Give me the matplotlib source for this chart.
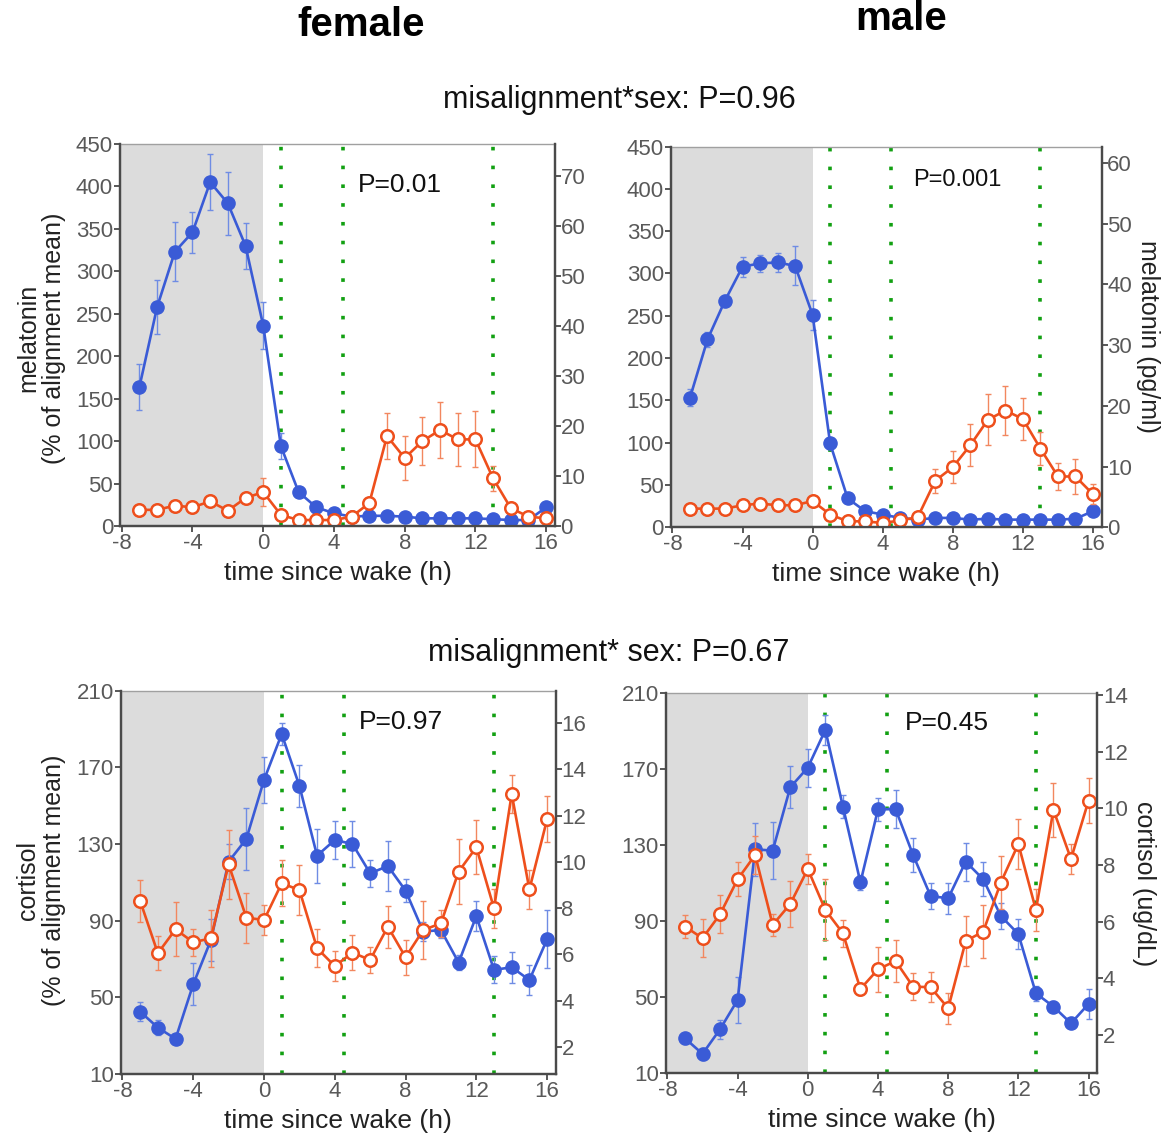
import matplotlib
matplotlib.use("Agg")
import matplotlib.pyplot as plt
import numpy as np

plt.rcParams['font.family'] = ['Liberation Sans', 'DejaVu Sans']
plt.rcParams['axes.unicode_minus'] = False

hours = np.arange(-7, 17)
wake_lines = [1, 4.5, 13]

# melatonin, female (% of alignment mean)
mel_f_align = [164, 258, 323, 346, 405, 380, 330, 236, 94, 40, 22, 15, 11, 12,
               12, 11, 9, 9, 9, 9, 8, 7, 7, 22]
mel_f_align_err = [27, 32, 35, 24, 33, 37, 27, 28, 15, 6, 4, 3, 3, 2, 2, 2, 2, 2,
                   2, 2, 2, 2, 2, 3]
mel_f_mis = [19, 19, 24, 22, 29, 18, 33, 40, 13, 7, 7, 7, 11, 27, 106, 80, 100,
             113, 102, 102, 56, 21, 11, 9]
mel_f_mis_err = [4, 4, 4, 4, 4, 4, 4, 16, 5, 3, 3, 3, 3, 5, 27, 26, 28, 33, 31,
                 33, 15, 5, 3, 3]

# melatonin, male
mel_m_align = [153, 222, 268, 308, 312, 313, 309, 251, 99, 34, 19, 15, 11, 9,
               11, 11, 9, 10, 9, 9, 9, 9, 10, 19]
mel_m_align_err = [10, 9, 7, 12, 10, 11, 23, 18, 6, 4, 3, 2, 2, 2, 2, 2, 2, 2,
                   2, 2, 2, 2, 2, 3]
mel_m_mis = [22, 22, 22, 26, 28, 26, 26, 31, 15, 7, 7, 5, 8, 12, 55, 71, 97,
             127, 138, 128, 93, 60, 60, 39]
mel_m_mis_err = [3, 3, 3, 3, 3, 3, 3, 4, 3, 2, 2, 2, 2, 3, 14, 19, 25, 30, 29,
                 25, 20, 16, 21, 12]

# cortisol, female
cor_f_align = [42.5, 34.2, 28.3, 56.8, 79.9, 120.8, 132.6, 163.4, 187.4, 160.4,
               123.9, 132.1, 130, 114.7, 118.5, 105.7, 84.3, 85.1, 68.1, 92.4,
               64.3, 65.7, 59, 80.3]
cor_f_align_err = [5, 4, 2, 11, 11, 9, 16, 12, 6, 11, 14, 10, 12, 7, 13, 6, 5,
                   4, 4, 8, 7, 8, 8, 15]
cor_f_mis = [100.3, 73, 85.5, 78.7, 80.8, 119.4, 91.6, 90.3, 109.5, 106, 75.6,
             66.3, 73.3, 69.5, 86.9, 70.9, 85.1, 88.6, 115.6, 128.3, 96.4, 156.1,
             106.3, 142.9]
cor_f_mis_err = [11, 9, 14, 7, 15, 18, 13, 8, 12, 13, 10, 8, 9, 7, 11, 9, 15, 7,
                 17, 14, 10, 10, 10, 12]

# cortisol, male
cor_m_align = [28.4, 20.2, 33.2, 48.6, 127.9, 127.2, 160.5, 170.9, 190.7, 150.4,
               110.5, 148.9, 149.1, 124.9, 103.3, 102.1, 121.4, 112.1, 92.8,
               83.3, 52.1, 45.1, 36.3, 46.5]
cor_m_align_err = [3, 3, 5, 12, 14, 15, 11, 10, 8, 6, 4, 6, 10, 9, 7, 8, 10, 9,
                   7, 8, 4, 3, 2, 8]
cor_m_mis = [87.2, 81.1, 93.7, 112.1, 124.9, 88.1, 99.1, 117.5, 96, 83.7, 54.4,
             64.7, 69.1, 55.6, 55.3, 44.2, 79.6, 84.6, 110.4, 130.7, 96, 148.6,
             122.8, 153.5]
cor_m_mis_err = [6, 10, 10, 9, 10, 6, 12, 8, 16, 7, 3, 12, 11, 7, 8, 8, 13, 14,
                 14, 13, 11, 14, 8, 12]

BLUE = '#3a5bd6'
ORANGE = '#ee4f1c'
TICK_C = '#595959'
SPINE_C = '#4a4a4a'

fig = plt.figure(figsize=(11.65, 11.39), dpi=100)


def panel(rect, align, align_err, mis, mis_err, ylim, yticks, rlim, rticks, ptext,
          ppos, pfs=19):
    ax = fig.add_axes(rect)
    ax.set_xlim(-8.1, 16.5)
    ax.set_ylim(*ylim)
    ax.axvspan(-8.1, 0, color='#dcdcdc', lw=0, zorder=0)
    for x in wake_lines:
        ax.axvline(x, color='#12a012', lw=2.6, ls=(0, (1, 4.2)), zorder=1)
    ax.errorbar(hours, align, yerr=align_err, fmt='none', ecolor='#6f8ce4',
                elinewidth=1.0, capsize=2, capthick=1.0, zorder=2)
    ax.plot(hours, align, '-o', color=BLUE, lw=1.9, ms=9.5, mfc=BLUE, mec=BLUE,
            zorder=3)
    ax.errorbar(hours, mis, yerr=mis_err, fmt='none', ecolor='#f2875f',
                elinewidth=1.0, capsize=2, capthick=1.0, zorder=4)
    ax.plot(hours, mis, '-o', color=ORANGE, lw=1.9, ms=9, mfc='white', mec=ORANGE,
            mew=1.8, zorder=5)
    ax.set_xticks([-8, -4, 0, 4, 8, 12, 16])
    ax.set_yticks(yticks)
    ax.tick_params(direction='out', length=4, width=1.3, colors=SPINE_C,
                   labelcolor=TICK_C, labelsize=16, pad=1)
    for s in ['left', 'bottom', 'right']:
        ax.spines[s].set_color(SPINE_C)
        ax.spines[s].set_linewidth(1.6)
    ax.spines['top'].set_color('#a0a0a0')
    ax.spines['top'].set_linewidth(1.0)
    ax.set_xlabel('time since wake (h)', fontsize=19, color='#222222', labelpad=5)
    ax.text(ppos[0], ppos[1], ptext, transform=ax.transAxes, ha='center',
            va='center', fontsize=pfs, color='#111111')
    ax2 = ax.twinx()
    ax2.set_ylim(*rlim)
    ax2.set_yticks(rticks)
    ax2.tick_params(direction='out', length=4, width=1.3, colors=SPINE_C,
                    labelcolor=TICK_C, labelsize=16, pad=0)
    for s in ['left', 'bottom', 'right']:
        ax2.spines[s].set_color(SPINE_C)
        ax2.spines[s].set_linewidth(1.6)
    ax2.spines['top'].set_visible(False)
    return ax, ax2


mel_yt = np.arange(0, 451, 50)
cor_yt = [10, 50, 90, 130, 170, 210]

panel([0.1030, 0.5382, 0.3734, 0.3354], mel_f_align, mel_f_align_err, mel_f_mis,
      mel_f_mis_err, (0, 450), mel_yt, (0, 76.4), np.arange(0, 71, 10), 'P=0.01',
      (0.644, 0.893))
a, a2 = panel([0.5757, 0.5371, 0.3700, 0.3342], mel_m_align, mel_m_align_err,
              mel_m_mis, mel_m_mis_err, (0, 450), mel_yt, (0, 62.7),
              np.arange(0, 61, 10), 'P=0.001', (0.664, 0.912), pfs=17)
a2.set_ylabel('melatonin (pg/ml)', fontsize=18, rotation=270, labelpad=20,
              color='#222222')
panel([0.1036, 0.0571, 0.3736, 0.3365], cor_f_align, cor_f_align_err, cor_f_mis,
      cor_f_mis_err, (10, 210), cor_yt, (0.84, 17.39), np.arange(2, 17, 2),
      'P=0.97', (0.644, 0.918))
b, b2 = panel([0.5714, 0.0577, 0.3705, 0.3336], cor_m_align, cor_m_align_err,
              cor_m_mis, cor_m_mis_err, (10, 210), cor_yt, (0.65, 14.06),
              np.arange(2, 15, 2), 'P=0.45', (0.652, 0.922))
b2.set_ylabel('cortisol (ug/dL)', fontsize=18, rotation=270, labelpad=20,
              color='#222222')

fig.text(41 / 1165, 1 - 338 / 1139, 'melatonin\n(% of alignment mean)', rotation=90,
         ha='center', va='center', fontsize=18, color='#222222', linespacing=1.1)
fig.text(41 / 1165, 1 - 880 / 1139, 'cortisol\n(% of alignment mean)', rotation=90,
         ha='center', va='center', fontsize=18, color='#222222', linespacing=1.1)

fig.text(361 / 1165, 1 - 25 / 1139, 'female', ha='center', va='center',
         fontsize=29, fontweight='bold')
fig.text(901 / 1165, 1 - 19 / 1139, 'male', ha='center', va='center',
         fontsize=29, fontweight='bold')
fig.text(619 / 1165, 1 - 100 / 1139, 'misalignment*sex: P=0.96', ha='center',
         va='center', fontsize=22, color='#111111')
fig.text(609 / 1165, 1 - 653 / 1139, 'misalignment* sex: P=0.67', ha='center',
         va='center', fontsize=22, color='#111111')

fig.savefig('out.png', dpi=100)
